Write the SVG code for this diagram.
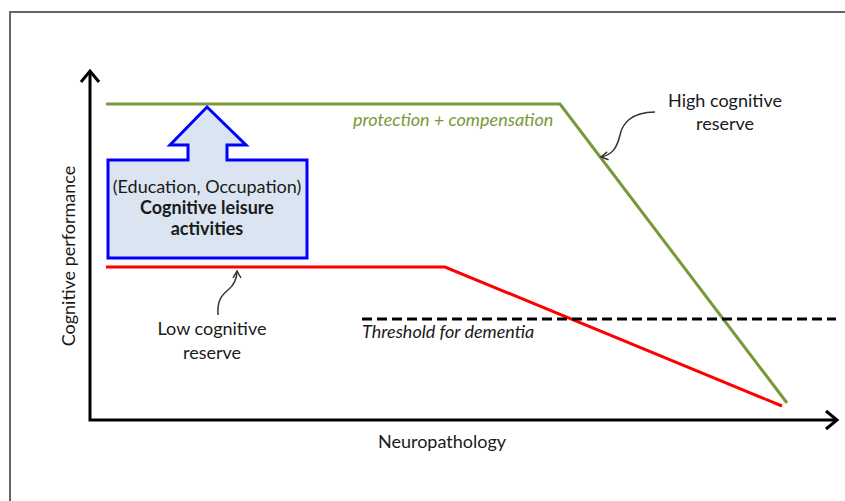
<svg xmlns="http://www.w3.org/2000/svg" width="845" height="501" viewBox="0 0 845 501">
<style>
text{font-family:Lato,"Open Sans","Liberation Sans",sans-serif;font-size:18px;fill:#1a1a1a}
.c{text-anchor:middle}
.b{font-weight:bold}
.i{font-style:italic}
.ax{fill:none;stroke:#000;stroke-width:3}
.ch{fill:none;stroke:#000;stroke-width:3;stroke-linejoin:miter}
.pt{fill:none;stroke:#333;stroke-width:1.5}
</style>
<defs>
<marker id="ah" markerWidth="10" markerHeight="10" refX="8" refY="5" orient="auto" markerUnits="userSpaceOnUse">
<path d="M1,1 L8,5 L1,9" fill="none" stroke="#333" stroke-width="1.5"/>
</marker>
</defs>
<rect x="0" y="0" width="845" height="501" fill="#fff"/>
<path d="M10,501 V12 H845" fill="none" stroke="#666" stroke-width="2"/>
<g id="axes">
<path class="ax" d="M90,72 V420 H836"/>
<path class="ch" d="M81,82 L90,71 L99,82"/>
<path class="ch" d="M826,411 L837,420 L826,429"/>
<text class="c" transform="translate(75,256) rotate(-90)">Cognitive performance</text>
<text class="c" x="442" y="448">Neuropathology</text>
</g>
<g id="connectors">
<path d="M106,104 H560 L787,403" fill="none" stroke="#77993a" stroke-width="3"/>
<path d="M106,267 H445 L782,406" fill="none" stroke="#ff0000" stroke-width="3"/>
<path d="M362,319 H836" fill="none" stroke="#000" stroke-width="3" stroke-dasharray="10,5"/>
<path class="pt" d="M655,112 C630,112 622,125 620,135 C617,148 612,155 601,157" marker-end="url(#ah)"/>
<path class="pt" d="M218,315 C217,300 222,295 228,290 C234,285 237,280 237,271" marker-end="url(#ah)"/>
</g>
<g id="leisure">
<path d="M207,107 L246,145 L227,145 L227,160 L307,160 L307,258 L108,258 L108,160 L188,160 L188,145 L170,145 Z" fill="#dbe5f1" stroke="#0000ff" stroke-width="3"/>
<text class="c" x="207" y="193" font-size="15">(Education, Occupation)</text>
<text class="c b" x="207" y="214" font-size="15">Cognitive leisure</text>
<text class="c b" x="207" y="235" font-size="15">activities</text>
</g>
<g id="labels">
<text class="i" x="353" y="126" font-size="16" style="fill:#77993a">protection + compensation</text>
<text class="c" x="725" y="107">High cognitive</text>
<text class="c" x="725" y="130">reserve</text>
<text class="c" x="212" y="335">Low cognitive</text>
<text class="c" x="212" y="359">reserve</text>
<text class="i" x="362" y="338" font-size="16">Threshold for dementia</text>
</g>
</svg>
